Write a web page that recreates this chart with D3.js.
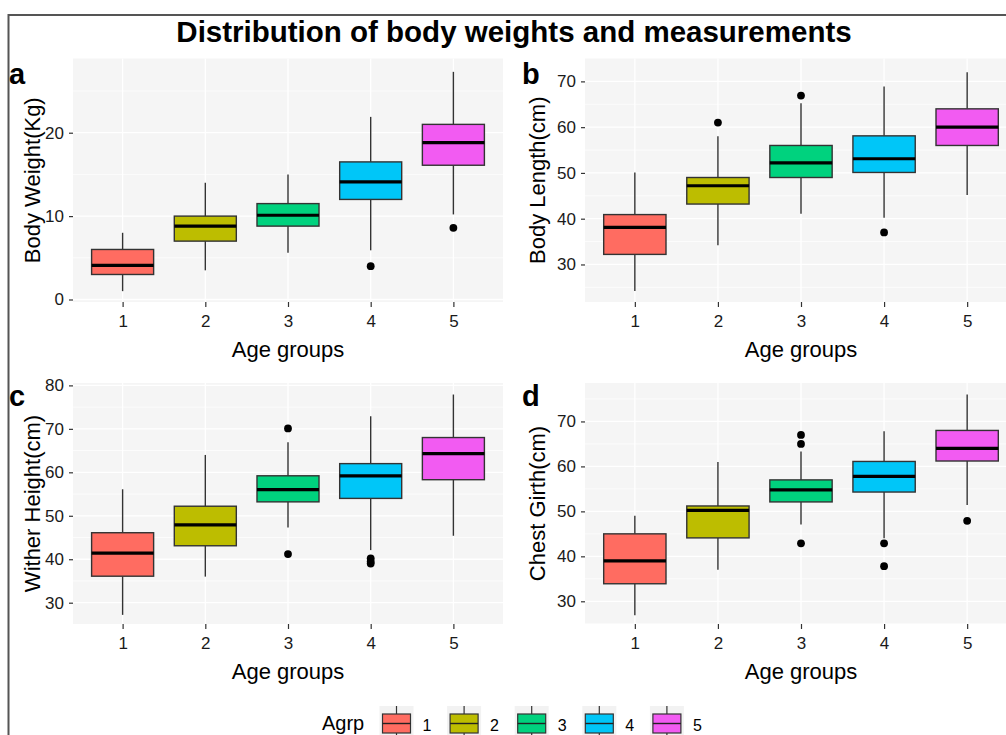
<!DOCTYPE html>
<html>
<head>
<meta charset="utf-8">
<script src="https://cdn.jsdelivr.net/npm/d3@7"></script>
<style>
  body { margin: 0; background: #fff; }
  svg { display: block; font-family: "Liberation Sans", Arial, sans-serif; }
</style>
</head>
<body>
<script>
// age groups
var groups = ["1", "2", "3", "4", "5"];
var fills = ["#FF6C61", "#BDBD00", "#00D27E", "#00C6F8", "#F25BF2"];

// box stats per group: [lower whisker, q1, median, q3, upper whisker]
var bodyWeight = [[1.0, 3.0, 4.1, 6.0, 8.0], [3.5, 7.0, 8.8, 10.0, 14.0], [5.6, 8.8, 10.1, 11.5, 15.0], [5.9, 12.0, 14.1, 16.5, 21.9], [10.2, 16.1, 18.8, 21.0, 27.3]];
var bodyWeightOut = [[], [], [], [4.0], [8.6]];

var bodyLength = [[24.2, 32.2, 38.1, 40.9, 50.1], [34.2, 43.2, 47.2, 49.0, 58.0], [41.1, 49.0, 52.2, 56.0, 65.2], [40.2, 50.1, 53.1, 58.1, 68.9], [45.2, 56.0, 60.0, 64.0, 72.0]];
var bodyLengthOut = [[], [61.0], [66.9], [37.0], []];

var witherHeight = [[27.2, 36.1, 41.4, 46.1, 56.1], [36.0, 43.1, 47.9, 52.2, 64.0], [47.3, 53.2, 56.0, 59.2, 66.9], [42.1, 54.0, 59.2, 62.0, 72.9], [45.4, 58.3, 64.3, 68.0, 77.9]];
var witherHeightOut = [[], [], [70.1, 41.2], [40.2, 39.5, 39.0], []];

var chestGirth = [[26.9, 33.9, 39.0, 45.0, 49.0], [37.0, 44.1, 50.2, 51.2, 61.0], [47.1, 52.1, 54.8, 57.0, 63.3], [44.0, 54.3, 57.8, 61.1, 67.8], [51.4, 61.2, 64.0, 68.0, 76.0]];
var chestGirthOut = [[], [], [67.0, 65.0, 42.9], [42.9, 37.8], [47.9]];

// y axis limits and ticks
var bwLimits = [-0.3, 28.9], bwTicks = [0, 10, 20];
var blLimits = [21.8, 75.0], blTicks = [30, 40, 50, 60, 70];
var whLimits = [25.1, 80.55], whTicks = [30, 40, 50, 60, 70, 80];
var cgLimits = [24.95, 78.55], cgTicks = [30, 40, 50, 60, 70];

var width = 1006, height = 735;

var svg = d3.select("body").append("svg")
    .attr("width", width)
    .attr("height", height);

svg.append("rect").attr("width", width).attr("height", height).attr("fill", "#fff");

// outer frame (only top and left edges are in view)
svg.append("path")
    .attr("d", "M8.5,740 V15 H1010")
    .attr("fill", "none")
    .attr("stroke", "#555")
    .attr("stroke-width", 2);

svg.append("text")
    .attr("x", 514).attr("y", 42)
    .attr("text-anchor", "middle")
    .attr("font-weight", "bold")
    .attr("font-size", "29.5px")
    .attr("fill", "#000")
    .text("Distribution of body weights and measurements");

function panel(opt) {
    var g = svg.append("g");
    var l = opt.left, r = opt.right, t = opt.top, b = opt.bottom;

    var x = d3.scalePoint().domain(groups).range([l, r]).padding(0.6);
    var y = d3.scaleLinear().domain(opt.limits).range([b, t]);
    var bw = x.step() * 0.75;

    g.append("rect")
        .attr("x", l).attr("y", t)
        .attr("width", r - l).attr("height", b - t)
        .attr("fill", "#F5F5F5");

    // minor grid
    var minor = opt.ticks.map(d => d - 5).concat([opt.ticks[opt.ticks.length - 1] + 5])
        .filter(d => d > opt.limits[0] && d < opt.limits[1]);
    g.selectAll(".minor").data(minor).enter().append("line")
        .attr("x1", l).attr("x2", r)
        .attr("y1", d => y(d)).attr("y2", d => y(d))
        .attr("stroke", "#fff").attr("stroke-width", 0.7);
    // major grid
    g.selectAll(".majy").data(opt.ticks).enter().append("line")
        .attr("x1", l).attr("x2", r)
        .attr("y1", d => y(d)).attr("y2", d => y(d))
        .attr("stroke", "#fff").attr("stroke-width", 1.3);
    g.selectAll(".majx").data(groups).enter().append("line")
        .attr("x1", d => x(d)).attr("x2", d => x(d))
        .attr("y1", t).attr("y2", b)
        .attr("stroke", "#fff").attr("stroke-width", 1.3);

    // axes
    var ya = g.append("g").attr("transform", "translate(" + l + ",0)")
        .call(d3.axisLeft(y).tickValues(opt.ticks).tickSize(4).tickPadding(5));
    var xa = g.append("g").attr("transform", "translate(0," + b + ")")
        .call(d3.axisBottom(x).tickSize(5).tickPadding(8));
    [ya, xa].forEach(a => {
        a.select(".domain").remove();
        a.selectAll(".tick line").attr("stroke", "#333").attr("stroke-width", 1.2);
        a.selectAll(".tick text").attr("fill", "#1a1a1a").attr("font-size", "17px")
            .attr("font-family", "Liberation Sans, Arial, sans-serif");
    });

    // boxes
    var bx = g.selectAll(".box").data(opt.stats).enter().append("g");
    bx.append("line")
        .attr("x1", (d, i) => x(groups[i])).attr("x2", (d, i) => x(groups[i]))
        .attr("y1", d => y(d[3])).attr("y2", d => y(d[4]))
        .attr("stroke", "#333").attr("stroke-width", 1.4);
    bx.append("line")
        .attr("x1", (d, i) => x(groups[i])).attr("x2", (d, i) => x(groups[i]))
        .attr("y1", d => y(d[1])).attr("y2", d => y(d[0]))
        .attr("stroke", "#333").attr("stroke-width", 1.4);
    bx.append("rect")
        .attr("x", (d, i) => x(groups[i]) - bw / 2)
        .attr("y", d => y(d[3]))
        .attr("width", bw)
        .attr("height", d => y(d[1]) - y(d[3]))
        .attr("fill", (d, i) => fills[i])
        .attr("stroke", "#333").attr("stroke-width", 1.4);
    bx.append("line")
        .attr("x1", (d, i) => x(groups[i]) - bw / 2).attr("x2", (d, i) => x(groups[i]) + bw / 2)
        .attr("y1", d => y(d[2])).attr("y2", d => y(d[2]))
        .attr("stroke", "#000").attr("stroke-width", 3.2);

    // outliers
    opt.out.forEach((pts, i) => {
        g.selectAll(null).data(pts).enter().append("circle")
            .attr("cx", x(groups[i])).attr("cy", d => y(d))
            .attr("r", 3.9).attr("fill", "#000");
    });

    // titles
    g.append("text")
        .attr("transform", "translate(" + opt.ytx + "," + ((t + b) / 2) + ") rotate(-90)")
        .attr("text-anchor", "middle")
        .attr("font-size", "22px").attr("fill", "#000")
        .text(opt.ylabel);
    g.append("text")
        .attr("x", (l + r) / 2)
        .attr("y", b + 55)
        .attr("text-anchor", "middle")
        .attr("font-size", "22px").attr("fill", "#000")
        .text("Age groups");
    g.append("text")
        .attr("x", opt.tagx).attr("y", opt.tagy)
        .attr("font-size", "29px").attr("font-weight", "bold").attr("fill", "#000")
        .text(opt.tag);
}

panel({ left: 73, right: 503, top: 58.5, bottom: 302, limits: bwLimits, ticks: bwTicks,
        stats: bodyWeight, out: bodyWeightOut, ylabel: "Body Weight(Kg)", ytx: 40, tag: "a", tagx: 9, tagy: 84 });
panel({ left: 585, right: 1017, top: 58.5, bottom: 302, limits: blLimits, ticks: blTicks,
        stats: bodyLength, out: bodyLengthOut, ylabel: "Body Length(cm)", ytx: 545, tag: "b", tagx: 522, tagy: 84 });
panel({ left: 73, right: 503, top: 383, bottom: 624, limits: whLimits, ticks: whTicks,
        stats: witherHeight, out: witherHeightOut, ylabel: "Wither Height(cm)", ytx: 40, tag: "c", tagx: 9, tagy: 406 });
panel({ left: 585, right: 1017, top: 383, bottom: 624, limits: cgLimits, ticks: cgTicks,
        stats: chestGirth, out: chestGirthOut, ylabel: "Chest Girth(cm)", ytx: 545, tag: "d", tagx: 522, tagy: 406 });

// legend
var leg = svg.append("g");
leg.append("text").attr("x", 322).attr("y", 730)
    .attr("font-size", "20px").attr("fill", "#000").text("Agrp");
var keys = leg.selectAll(".key").data(groups).enter().append("g")
    .attr("transform", (d, i) => "translate(" + (396.5 + i * 67.6) + ",0)");
keys.append("rect").attr("x", -17).attr("y", 706).attr("width", 34).attr("height", 40).attr("fill", "#F2F2F2");
keys.append("line").attr("x1", 0).attr("x2", 0).attr("y1", 706).attr("y2", 740)
    .attr("stroke", "#333").attr("stroke-width", 1.2);
keys.append("rect").attr("x", -14).attr("y", 714).attr("width", 28).attr("height", 19)
    .attr("fill", (d, i) => fills[i]).attr("stroke", "#333").attr("stroke-width", 1.2);
keys.append("line").attr("x1", -14).attr("x2", 14).attr("y1", 723.5).attr("y2", 723.5)
    .attr("stroke", "#222").attr("stroke-width", 1.4);
keys.append("text").attr("x", 26).attr("y", 731)
    .attr("font-size", "16px").attr("fill", "#000").text(d => d);
</script>
</body>
</html>
